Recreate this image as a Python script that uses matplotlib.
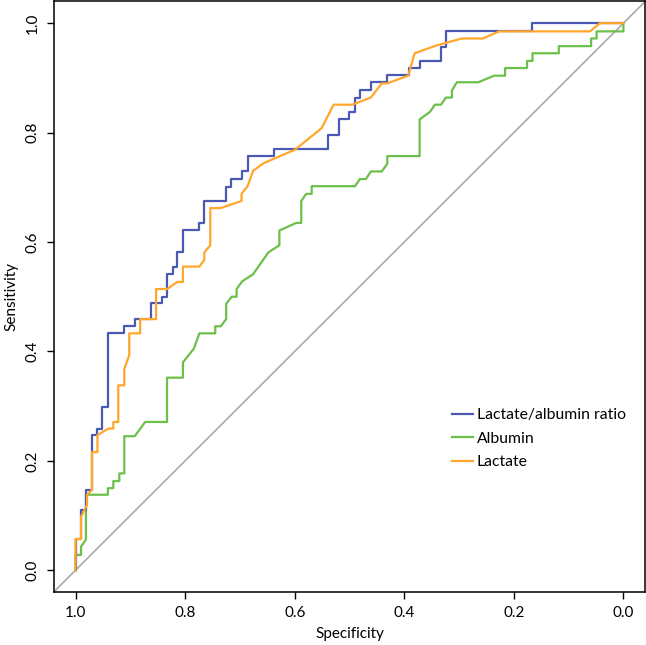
import matplotlib
matplotlib.use("Agg")
import matplotlib.pyplot as plt

# ROC curves (specificity, sensitivity)
ratio_spec = [1.0, 1.0, 0.990, 0.990, 0.981, 0.981, 0.970, 0.970, 0.961, 0.961, 0.951, 0.951,
              0.941, 0.941, 0.911, 0.911, 0.891, 0.891, 0.863, 0.863, 0.843, 0.843, 0.833, 0.833,
              0.823, 0.823, 0.814, 0.814, 0.804, 0.804, 0.774, 0.774, 0.765, 0.765, 0.726, 0.726,
              0.716, 0.716, 0.697, 0.697, 0.686, 0.686, 0.637, 0.637, 0.540, 0.540, 0.519, 0.519,
              0.500, 0.500, 0.490, 0.490, 0.481, 0.481, 0.461, 0.461, 0.432, 0.432, 0.392, 0.392,
              0.372, 0.372, 0.333, 0.333, 0.324, 0.324, 0.167, 0.167, 0.0]
ratio_sens = [0.0, 0.057, 0.057, 0.110, 0.110, 0.147, 0.147, 0.247, 0.247, 0.259, 0.259, 0.298,
              0.298, 0.433, 0.433, 0.447, 0.447, 0.460, 0.460, 0.488, 0.488, 0.500, 0.500, 0.541,
              0.541, 0.554, 0.554, 0.581, 0.581, 0.622, 0.622, 0.635, 0.635, 0.675, 0.675, 0.701,
              0.701, 0.715, 0.715, 0.730, 0.730, 0.757, 0.757, 0.770, 0.770, 0.796, 0.796, 0.824,
              0.824, 0.838, 0.838, 0.864, 0.864, 0.877, 0.877, 0.892, 0.892, 0.906, 0.906, 0.918,
              0.918, 0.931, 0.931, 0.957, 0.957, 0.986, 0.986, 1.0, 1.0]

albumin_spec = [1.0, 1.0, 0.990, 0.990, 0.981, 0.981, 0.941, 0.941, 0.931, 0.931, 0.920, 0.920,
                0.911, 0.911, 0.892, 0.873, 0.833, 0.833, 0.804, 0.804, 0.784, 0.774, 0.745, 0.745,
                0.735, 0.725, 0.725, 0.715, 0.706, 0.706, 0.696, 0.676, 0.648, 0.628, 0.628, 0.597,
                0.588, 0.588, 0.579, 0.569, 0.569, 0.490, 0.481, 0.470, 0.461, 0.441, 0.431, 0.431,
                0.372, 0.372, 0.353, 0.344, 0.333, 0.324, 0.313, 0.313, 0.304, 0.265, 0.236, 0.216,
                0.216, 0.176, 0.176, 0.166, 0.166, 0.118, 0.118, 0.059, 0.059, 0.049, 0.049, 0.0, 0.0]
albumin_sens = [0.0, 0.028, 0.028, 0.043, 0.056, 0.138, 0.138, 0.150, 0.150, 0.163, 0.163, 0.177,
                0.177, 0.245, 0.245, 0.271, 0.271, 0.352, 0.352, 0.380, 0.405, 0.433, 0.433, 0.446,
                0.446, 0.459, 0.487, 0.500, 0.500, 0.514, 0.528, 0.541, 0.581, 0.594, 0.621, 0.635,
                0.635, 0.675, 0.688, 0.688, 0.702, 0.702, 0.715, 0.715, 0.729, 0.729, 0.743, 0.757,
                0.757, 0.824, 0.838, 0.851, 0.851, 0.864, 0.864, 0.877, 0.892, 0.892, 0.904, 0.904,
                0.918, 0.918, 0.931, 0.931, 0.945, 0.945, 0.958, 0.958, 0.972, 0.972, 0.985, 0.985, 1.0]

lactate_spec = [1.0, 1.0, 0.990, 0.990, 0.979, 0.979, 0.970, 0.970, 0.960, 0.960, 0.940, 0.931,
                0.931, 0.922, 0.922, 0.911, 0.911, 0.902, 0.902, 0.882, 0.882, 0.853, 0.853, 0.833,
                0.814, 0.804, 0.804, 0.774, 0.765, 0.765, 0.754, 0.754, 0.735, 0.697, 0.697, 0.686,
                0.676, 0.657, 0.599, 0.551, 0.529, 0.495, 0.461, 0.441, 0.431, 0.393, 0.381, 0.342,
                0.295, 0.256, 0.227, 0.061, 0.043, 0.0]
lactate_sens = [0.0, 0.057, 0.057, 0.098, 0.119, 0.138, 0.147, 0.216, 0.216, 0.247, 0.259, 0.259,
                0.271, 0.271, 0.338, 0.338, 0.368, 0.393, 0.433, 0.433, 0.459, 0.459, 0.514, 0.514,
                0.527, 0.527, 0.555, 0.555, 0.567, 0.581, 0.594, 0.662, 0.662, 0.675, 0.688, 0.702,
                0.730, 0.744, 0.769, 0.808, 0.851, 0.851, 0.864, 0.890, 0.890, 0.904, 0.945, 0.959,
                0.972, 0.972, 0.985, 0.985, 1.0, 1.0]

labels = ["Lactate/albumin ratio", "Albumin", "Lactate"]
colors = ["#4a5ab4", "#6cc04a", "#ffa62b"]
ticks = [1.0, 0.8, 0.6, 0.4, 0.2, 0.0]

plt.rcParams["font.family"] = ["Lato", "DejaVu Sans"]

fig = plt.figure(figsize=(6.46, 6.45), dpi=100)
ax = fig.add_axes([0.083, 0.082, 0.916, 0.916])

ax.axline((1, 0), (0, 1), color="#aaaaaa", lw=1.2, zorder=1)
ax.plot(ratio_spec, ratio_sens, color=colors[0], lw=1.6, label=labels[0], zorder=3)
ax.plot(albumin_spec, albumin_sens, color=colors[1], lw=1.6, label=labels[1], zorder=2)
ax.plot(lactate_spec, lactate_sens, color=colors[2], lw=1.6, label=labels[2], zorder=4)

ax.set_xlim(1.04, -0.04)
ax.set_ylim(-0.04, 1.04)
ax.set_xticks(ticks)
ax.set_yticks(ticks)
ax.set_xticklabels(["%.1f" % t for t in ticks], fontsize=11)
ax.set_yticklabels(["%.1f" % t for t in ticks], fontsize=11, rotation=90, va="center")
ax.tick_params(direction="out", length=5, width=1, pad=5)
for s in ax.spines.values():
    s.set_linewidth(1.1)

ax.set_xlabel("Specificity", fontsize=11, labelpad=5)
ax.set_ylabel("Sensitivity", fontsize=11, labelpad=5)

ax.legend(loc="upper left", bbox_to_anchor=(0.650, 0.335), frameon=False, fontsize=11.3,
          handlelength=1.3, handletextpad=0.25, labelspacing=0.6)

fig.savefig("out.png", dpi=100)
